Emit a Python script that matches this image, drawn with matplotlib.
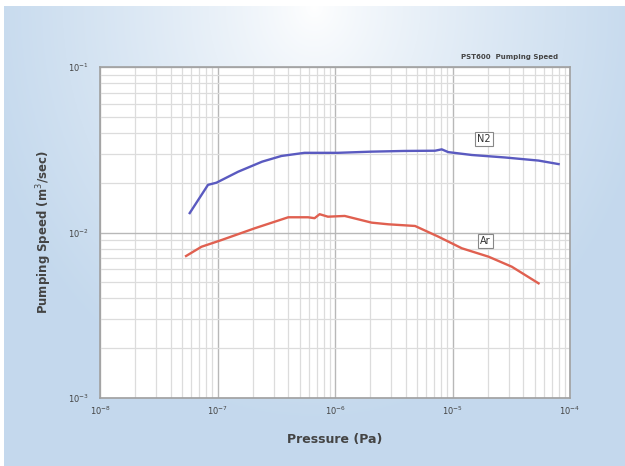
import numpy as np
import matplotlib
matplotlib.use("Agg")
import matplotlib.pyplot as plt
from matplotlib.ticker import LogLocator, NullFormatter

# pumping speed curves
n2_pressure = [5.8e-8, 8.3e-8, 9.8e-8, 1.5e-7, 2.4e-7, 3.5e-7, 5.5e-7, 1.06e-6,
               2.05e-6, 3.9e-6, 7.1e-6, 8.1e-6, 9.2e-6, 1.46e-5, 2.8e-5, 5.4e-5, 8.0e-5]
n2_speed = [0.0131, 0.0194, 0.0200, 0.0233, 0.0268, 0.0290, 0.0303, 0.0303,
            0.0308, 0.0311, 0.0312, 0.0318, 0.0306, 0.0294, 0.0284, 0.0272, 0.0259]

ar_pressure = [5.4e-8, 7.3e-8, 1.08e-7, 2.07e-7, 4.0e-7, 5.9e-7, 6.7e-7, 7.4e-7,
               8.7e-7, 1.21e-6, 2.05e-6, 2.84e-6, 4.8e-6, 7.6e-6, 1.2e-5, 2.03e-5,
               3.2e-5, 5.4e-5]
ar_speed = [0.00721, 0.0082, 0.0090, 0.0106, 0.01236, 0.01236, 0.0122, 0.0129,
            0.01246, 0.01259, 0.01147, 0.01121, 0.01095, 0.00943, 0.00803, 0.00714,
            0.00621, 0.00493]

x_ticks = [1e-8, 1e-7, 1e-6, 1e-5, 1e-4]
x_labels = ["10$^{-8}$", "10$^{-7}$", "10$^{-6}$", "10$^{-5}$", "10$^{-4}$"]
y_ticks = [1e-3, 1e-2, 1e-1]
y_labels = ["10$^{-3}$", "10$^{-2}$", "10$^{-1}$"]

W, H = 625, 466
fig = plt.figure(figsize=(W / 100, H / 100), dpi=100)
fig.patch.set_facecolor("white")

# gradient background panel
bg = fig.add_axes([4 / W, 0, 1 - 4 / W, 1 - 6 / H])
yy, xx = np.mgrid[0:1:300j, -1:1:400j]
r = np.clip(np.sqrt((xx / 1.1) ** 2 + (yy / 0.9) ** 2), 0, 1)
light = np.array([1.0, 1.0, 1.0])
blue = np.array([0.77, 0.85, 0.93])
img = light + (blue - light) * r[..., None] ** 0.8
bg.imshow(img, aspect="auto", extent=[0, 1, 0, 1], origin="upper")
bg.axis("off")

ax = fig.add_axes([100 / W, 1 - 398 / H, 470 / W, 331 / H])
ax.set_facecolor("white")
ax.set_xscale("log")
ax.set_yscale("log")
ax.set_xlim(1e-8, 1e-4)
ax.set_ylim(1e-3, 1e-1)

ax.xaxis.set_minor_locator(LogLocator(base=10, subs=np.arange(2, 10), numticks=20))
ax.yaxis.set_minor_locator(LogLocator(base=10, subs=np.arange(2, 10), numticks=20))
ax.xaxis.set_minor_formatter(NullFormatter())
ax.yaxis.set_minor_formatter(NullFormatter())
ax.grid(True, which="major", color="#b8b8b8", lw=1.0)
ax.grid(True, which="minor", color="#dcdcdc", lw=0.9)
ax.set_axisbelow(True)

ax.set_xticks(x_ticks)
ax.set_xticklabels(x_labels)
ax.set_yticks(y_ticks)
ax.set_yticklabels(y_labels)
ax.tick_params(which="both", length=0, labelsize=6, colors="#444444")
ax.tick_params(axis="x", pad=5)
ax.tick_params(axis="y", pad=8)

for s in ax.spines.values():
    s.set_color("#a0a0a0")
    s.set_linewidth(1.2)

ax.plot(n2_pressure, n2_speed, color="#5a5ac0", lw=1.7)
ax.plot(ar_pressure, ar_speed, color="#e06050", lw=1.7)

box = dict(boxstyle="square,pad=0.2", fc="white", ec="#888888", lw=0.8)
ax.text(1.85e-5, 0.0365, "N2", fontsize=7, color="#333333", ha="center", va="center", bbox=box)
ax.text(1.9e-5, 0.0089, "Ar", fontsize=7, color="#333333", ha="center", va="center", bbox=box)

ax.set_xlabel("Pressure (Pa)", fontsize=9, color="#444444", fontweight="bold", labelpad=11)
ax.set_ylabel("Pumping Speed (m$^3$/sec)", fontsize=8.5, color="#444444", fontweight="bold", labelpad=10)

fig.text(510 / W, 1 - 57 / H, "PST600  Pumping Speed", fontsize=5, color="#444444",
         ha="center", va="center", fontweight="bold")

fig.savefig("out.png", dpi=100)
